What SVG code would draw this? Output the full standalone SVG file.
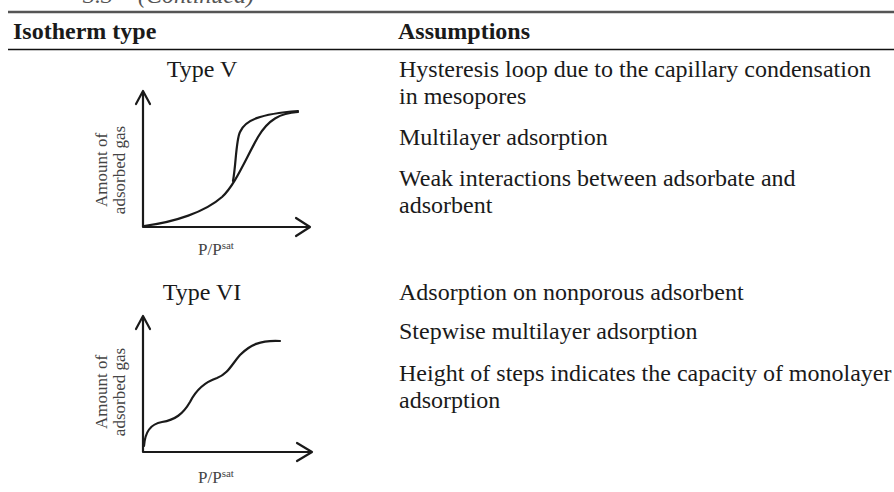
<svg xmlns="http://www.w3.org/2000/svg" width="894" height="492" viewBox="0 0 894 492">
<style>
.t{font-family:"Liberation Serif","Times New Roman",serif;font-size:24px;fill:#1a1a1a}
.b{font-weight:bold}
.cap{font-family:"Liberation Serif",serif;font-size:24px;font-style:italic;fill:#555}
.ax{font-family:"Liberation Serif",serif;font-size:17px;fill:#444}
.axs{stroke:#1a1a1a;stroke-width:2.2;fill:none;stroke-linecap:round;stroke-linejoin:round}
.cv{stroke:#1a1a1a;stroke-width:2.2;fill:none;stroke-linecap:round}
</style>
<rect width="894" height="492" fill="#fff"/>
<g id="table">
<text class="cap" x="83" y="3">3.3</text>
<text class="cap" x="138" y="3">(Continued)</text>
<line x1="8" y1="12" x2="894" y2="12" stroke="#555" stroke-width="2.5"/>
<text class="t b" x="13" y="39">Isotherm type</text>
<text class="t b" x="398" y="39">Assumptions</text>
<line x1="8" y1="49.5" x2="894" y2="49.5" stroke="#111" stroke-width="1.6"/>
</g>
<g id="typeV">
<text class="t" x="202" y="77" text-anchor="middle">Type V</text>
<text class="ax" transform="translate(107,170) rotate(-90)" text-anchor="middle">Amount of</text>
<text class="ax" transform="translate(125,170) rotate(-90)" text-anchor="middle">adsorbed gas</text>
<path class="axs" d="M143,92 V227 H309"/>
<path class="axs" d="M136,104 L143,91 L150,104"/>
<path class="axs" d="M296,218 L310,227 L296,236"/>
<path class="cv" d="M144,226 C175,222 205,212 222,197 C235,185 245,160 258,137 C268,120 280,113 298,112"/>
<path class="cv" d="M233,181 C236,165 236,140 240,132 C245,120 260,114 298,111"/>
<text class="ax" x="198" y="255">P/P<tspan font-size="11" dy="-6">sat</tspan></text>
</g>
<g id="typeV-text">
<text class="t" x="399" y="77">Hysteresis loop due to the capillary condensation</text>
<text class="t" x="399" y="104">in mesopores</text>
<text class="t" x="399" y="145">Multilayer adsorption</text>
<text class="t" x="399" y="186">Weak interactions between adsorbate and</text>
<text class="t" x="399" y="213">adsorbent</text>
</g>
<g id="typeVI">
<text class="t" x="202" y="300" text-anchor="middle">Type VI</text>
<text class="ax" transform="translate(107,392) rotate(-90)" text-anchor="middle">Amount of</text>
<text class="ax" transform="translate(125,392) rotate(-90)" text-anchor="middle">adsorbed gas</text>
<path class="axs" d="M143,317 V452 H311"/>
<path class="axs" d="M136,329 L143,316 L150,329"/>
<path class="axs" d="M297,443 L312,452 L297,461"/>
<path class="cv" d="M144,446 C145,432 150,424 162,422 C175,420 183,414 190,402 C196,390 205,382 217,378 C228,374 232,364 240,355 C250,345 260,340 280,341"/>
<text class="ax" x="198" y="483">P/P<tspan font-size="11" dy="-6">sat</tspan></text>
</g>
<g id="typeVI-text">
<text class="t" x="399" y="300">Adsorption on nonporous adsorbent</text>
<text class="t" x="399" y="339">Stepwise multilayer adsorption</text>
<text class="t" x="399" y="381">Height of steps indicates the capacity of monolayer</text>
<text class="t" x="399" y="408">adsorption</text>
</g>
</svg>
